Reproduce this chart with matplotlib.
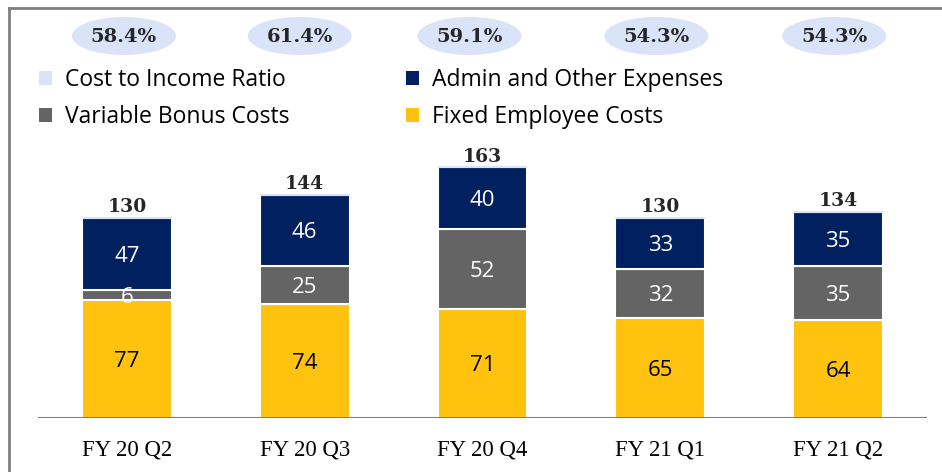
import matplotlib
matplotlib.use("Agg")
import matplotlib.pyplot as plt
from matplotlib.patches import Ellipse, Patch
from matplotlib.lines import Line2D

categories = ["FY 20 Q2", "FY 20 Q3", "FY 20 Q4", "FY 21 Q1", "FY 21 Q2"]
fixed_costs = [77, 74, 71, 65, 64]
bonus_costs = [6, 25, 52, 32, 35]
admin_costs = [47, 46, 40, 33, 35]
totals = [130, 144, 163, 130, 134]
cost_income = ["58.4%", "61.4%", "59.1%", "54.3%", "54.3%"]

C_LIGHT = "#D9E4F8"
C_NAVY = "#002060"
C_GRAY = "#646464"
C_YELLOW = "#FEC20F"

W, H = 942, 472
fig = plt.figure(figsize=(W / 100, H / 100), dpi=100)

def fx(px):
    return px / W

def fy(py):
    return 1 - py / H

ax_l, ax_r, ax_b, ax_t = 38, 927, 418, 8
ax = fig.add_axes([fx(ax_l), fy(ax_b), fx(ax_r - ax_l), (ax_b - ax_t) / H])
ax.set_xlim(-0.5, 4.5)
ymax = (ax_b - ax_t) / (200 / 130)
ax.set_ylim(0, ymax)
ax.axis("off")

x = list(range(len(categories)))
bw = 0.506
sans = "Open Sans"
serif = "DejaVu Serif"

ax.bar(x, fixed_costs, bw, color=C_YELLOW, edgecolor="white", linewidth=1.5)
bot2 = fixed_costs
ax.bar(x, bonus_costs, bw, bottom=bot2, color=C_GRAY, edgecolor="white", linewidth=1.5)
bot3 = [a + b for a, b in zip(fixed_costs, bonus_costs)]
ax.bar(x, admin_costs, bw, bottom=bot3, color=C_NAVY, edgecolor="white", linewidth=1.5)

# thin light-blue top line
ax.hlines([a + b for a, b in zip(bot3, admin_costs)], [i - bw / 2 for i in x],
          [i + bw / 2 for i in x], color=C_LIGHT, linewidth=1.5)

for i in x:
    ax.text(i, fixed_costs[i] / 2, str(fixed_costs[i]), ha="center", va="center_baseline",
            fontsize=16, family=sans, color="black")
    ax.text(i, bot2[i] + bonus_costs[i] / 2, str(bonus_costs[i]), ha="center",
            va="center_baseline", fontsize=16, family=sans, color="white")
    ax.text(i, bot3[i] + admin_costs[i] / 2, str(admin_costs[i]), ha="center",
            va="center_baseline", fontsize=16, family=sans, color="white")
    ax.text(i, bot3[i] + admin_costs[i] + 1.0, str(totals[i]), ha="center", va="bottom",
            fontsize=13.5, family=serif, fontweight="bold", color="#262626")
    ax.text(i, -14, categories[i], ha="center", va="top", fontsize=16.4,
            family="Liberation Serif", color="black", clip_on=False)

# baseline
ax.axhline(0, color="#7F7F7F", linewidth=1.5)

# cost to income ellipses
ell_off = [-3, -5, -13, -4, -4]
for i in x:
    cx = ax_l + (i + 0.5) * (ax_r - ax_l) / 5 + ell_off[i]
    e = Ellipse((fx(cx), fy(36)), fx(104), 38 / H, transform=fig.transFigure,
                facecolor=C_LIGHT, edgecolor="none")
    fig.patches.append(e)
    fig.text(fx(cx), fy(37), cost_income[i], ha="center", va="center", fontsize=14,
             family=serif, fontweight="bold", color="#262626")

# legend
handles = [
    Patch(facecolor=C_LIGHT, edgecolor="none", label="Cost to Income Ratio"),
    Patch(facecolor=C_GRAY, edgecolor="none", label="Variable Bonus Costs"),
    Patch(facecolor=C_NAVY, edgecolor="none", label="Admin and Other Expenses"),
    Patch(facecolor=C_YELLOW, edgecolor="none", label="Fixed Employee Costs"),
]
fig.legend(handles=handles, loc="upper left", bbox_to_anchor=(fx(39), fy(68)),
           ncol=2, frameon=False, prop={"family": sans, "size": 16.5},
           handlelength=0.57, handleheight=0.57, handletextpad=0.55,
           columnspacing=5.1, labelspacing=0.58, borderaxespad=0, borderpad=0)

# frame
fig.add_artist(Line2D([fx(9), fx(9)], [fy(8), 0], transform=fig.transFigure,
                      color="#7F7F7F", linewidth=2))
fig.add_artist(Line2D([fx(9), 1], [fy(8), fy(8)], transform=fig.transFigure,
                      color="#7F7F7F", linewidth=2))

fig.savefig("out.png", dpi=100)
